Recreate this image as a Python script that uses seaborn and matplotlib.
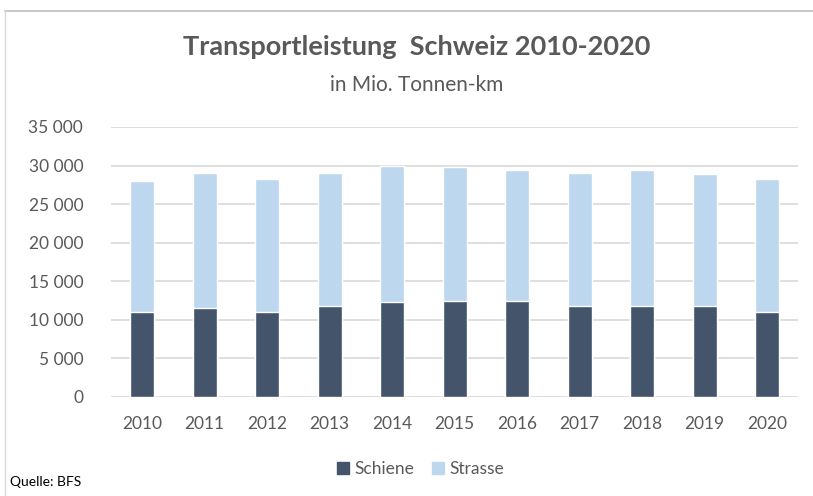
import matplotlib.pyplot as plt
import pandas as pd
import seaborn as sns
from matplotlib.lines import Line2D
from matplotlib.patches import Patch
from matplotlib.ticker import FuncFormatter

# Data (Mio. Tonnen-km)
years = ['2010', '2011', '2012', '2013', '2014', '2015', '2016', '2017', '2018', '2019', '2020']
schiene = [11050, 11600, 11050, 11800, 12250, 12450, 12450, 11800, 11800, 11800, 11050]
strasse = [16950, 17450, 17150, 17250, 17750, 17300, 16950, 17250, 17600, 17100, 17150]

df = pd.DataFrame({'year': years, 'Schiene': schiene, 'Strasse': strasse})
df['total'] = df['Schiene'] + df['Strasse']

sns.set_style('white')
plt.rcParams['font.family'] = ['Lato', 'DejaVu Sans']

dark = '#44546A'
light = '#BDD7EE'
grey = '#595959'

fig = plt.figure(figsize=(8.13, 4.96), dpi=100)
ax = fig.add_axes([0.1365, 0.1996, 0.8455, 0.5444])

# stacked bars: full total in light, Schiene on top of it in dark
sns.barplot(data=df, x='year', y='total', color=light, width=0.385,
            saturation=1, ax=ax, zorder=2)
sns.barplot(data=df, x='year', y='Schiene', color=dark, width=0.385,
            saturation=1, ax=ax, zorder=3)

ax.set_ylim(0, 35000)
ax.set_xlim(-0.5, 10.5)
ax.set_yticks(range(0, 35001, 5000))
ax.yaxis.set_major_formatter(FuncFormatter(lambda v, p: f'{int(v):,}'.replace(',', ' ')))
ax.grid(axis='y', color='#D9D9D9', linewidth=1.2, zorder=0)
ax.set_axisbelow(True)
for s in ax.spines.values():
    s.set_visible(False)
ax.set_xlabel('')
ax.set_ylabel('')
ax.tick_params(axis='both', length=0, labelsize=12.5, labelcolor=grey)
ax.tick_params(axis='x', pad=14)
ax.tick_params(axis='y', pad=20)

fig.text(0.512, 0.905, 'Transportleistung  Schweiz 2010-2020', ha='center', va='center',
         fontsize=19.5, fontweight='bold', color=grey)
fig.text(0.512, 0.828, 'in Mio. Tonnen-km', ha='center', va='center',
         fontsize=15, color=grey)

handles = [Patch(color=dark, label='Schiene'), Patch(color=light, label='Strasse')]
fig.legend(handles=handles, loc='center', bbox_to_anchor=(0.517, 0.055), ncol=2,
           frameon=False, fontsize=12.5, handlelength=0.7, handleheight=0.7,
           handletextpad=0.3, columnspacing=1.0, labelcolor=grey)

fig.text(0.012, 0.028, 'Quelle: BFS', ha='left', va='center', fontsize=10, color='black')

# chart frame
fig.add_artist(Line2D([5 / 813, 1], [1 - 11 / 496, 1 - 11 / 496], color='#BFBFBF', lw=1.2))
fig.add_artist(Line2D([5 / 813, 5 / 813], [0, 1 - 11 / 496], color='#D9D9D9', lw=1.0))

fig.savefig('out.png')
